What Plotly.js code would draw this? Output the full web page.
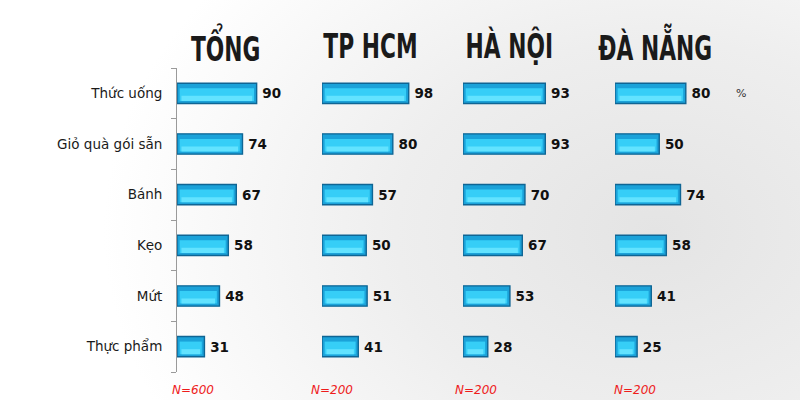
<!DOCTYPE html>
<html><head><meta charset="utf-8">
<script src="https://cdn.plot.ly/plotly-3.0.1.min.js"></script>
<style>
html,body{margin:0;padding:0;}
body{width:800px;height:400px;background:radial-gradient(ellipse 650px 480px at 82% 58%, #e4e4e4 0%, #eeeeee 40%, #ffffff 85%);}
#chart{width:800px;height:400px;}
.narrow{transform-box:fill-box;transform-origin:center;transform:scale(0.66,1);}
</style></head>
<body><div id="chart"></div>
<script>
const categories = ['Thức uống','Giỏ quà gói sẵn','Bánh','Kẹo','Mứt','Thực phẩm'];
const panelTitles = ['TỔNG','TP HCM','HÀ NỘI','ĐÀ NẴNG'];
const sampleLabels = ['N=600','N=200','N=200','N=200'];
const tong  = [90,74,67,58,48,31];
const tphcm = [98,80,57,50,51,41];
const hanoi = [93,93,70,67,53,28];
const danang= [80,50,74,58,41,25];
const series = [tong,tphcm,hanoi,danang];

const pxPerUnit = 0.885;
const panelPx = [[177,320],[322,460],[463,612],[615,740]];
const yTop = 68, yBot = 372, H = 400, W = 800;

const data = [];
const layout = {
  width: W, height: H,
  margin:{l:0,r:0,t:0,b:0},
  paper_bgcolor:'rgba(0,0,0,0)', plot_bgcolor:'rgba(0,0,0,0)',
  showlegend:false, barmode:'overlay',
  annotations:[],
  yaxis:{
    domain:[1-yBot/H, 1-yTop/H], type:'category',
    categoryorder:'array', categoryarray:categories.slice().reverse(),
    range:[-0.5,5.5], showline:true, linecolor:'#9a9a9a', linewidth:1,
    ticks:'outside', ticklen:5, tickcolor:'#9a9a9a', tickson:'boundaries',
    showgrid:false, zeroline:false, anchor:'x',
    tickfont:{family:'DejaVu Sans, Verdana, sans-serif', size:13.5, color:'#1a1a1a'},
    ticklabelstandoff:11
  }
};
series.forEach((vals,i)=>{
  const ax = i===0?'':String(i+1);
  const [a,b] = panelPx[i];
  layout['xaxis'+ax] = {
    domain:[a/W,b/W], range:[0,(b-a)/pxPerUnit], anchor:'y',
    showgrid:false, zeroline:false, showline:false, showticklabels:false, ticks:''
  };
  data.push({
    type:'bar', orientation:'h', x:vals, y:categories, xaxis:'x'+ax, yaxis:'y',
    width:0.4, marker:{color:'#1ba2d9', line:{color:'#0f6594', width:1.4}},
    text:vals.map(v=>'\u2009'+v), textposition:'outside', cliponaxis:false,
    textfont:{family:'DejaVu Sans, Verdana, sans-serif', size:13.5, color:'#111', weight:'bold'},
    hoverinfo:'skip'
  });
  data.push({
    type:'bar', orientation:'h', x:vals.map(v=>v-6), base:3, y:categories, xaxis:'x'+ax, yaxis:'y',
    width:0.25, offset:-0.15, marker:{color:'#36cef7', line:{width:0}},
    hoverinfo:'skip'
  });
  data.push({
    type:'bar', orientation:'h', x:vals.map(v=>v-10), base:5, y:categories, xaxis:'x'+ax, yaxis:'y',
    width:0.1, offset:-0.15, marker:{color:'#62e3ff', line:{width:0}},
    hoverinfo:'skip'
  });
  layout.annotations.push({
    text:'<b>'+panelTitles[i]+'</b>', xref:'paper', yref:'paper',
    x:[225,370,510,655][i]/W, y:1-46/H, xanchor:'center', yanchor:'middle', showarrow:false,
    font:{family:'DejaVu Sans, sans-serif', size:33, color:'#1a1a1a'}
  });
  layout.annotations.push({
    text:'<i>'+sampleLabels[i]+'</i>', xref:'paper', yref:'paper',
    x:[170,309,453,612][i]/W, y:1-390/H, xanchor:'left', yanchor:'middle', showarrow:false,
    font:{family:'DejaVu Sans, Verdana, sans-serif', size:12, color:'#ee1c1c'}
  });
});
layout.annotations.push({
  text:'%', xref:'paper', yref:'paper', x:741/W, y:1-93/H, xanchor:'center', yanchor:'middle',
  showarrow:false, font:{family:'DejaVu Sans, sans-serif', size:11, color:'#333'}
});
Plotly.newPlot('chart', data, layout, {staticPlot:true, displayModeBar:false}).then(()=>{
  document.querySelectorAll('#chart .annotation-text').forEach(t=>{
    if (panelTitles.includes(t.textContent.trim())) t.classList.add('narrow');
  });
});
</script></body></html>
